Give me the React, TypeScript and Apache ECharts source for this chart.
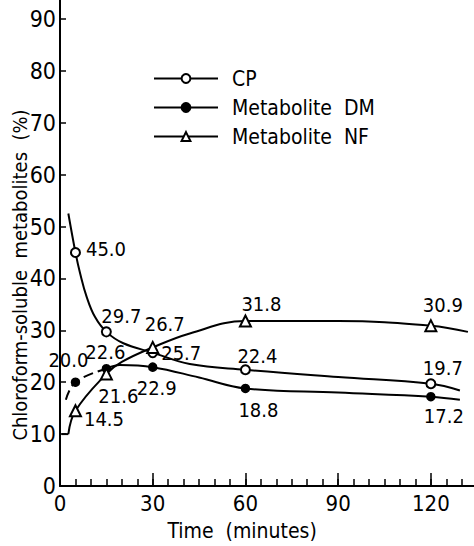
import React, { useEffect, useRef } from "react";
import * as echarts from "echarts";

// Measured points (time in minutes)
const times = [5, 15, 30, 60, 120];
const cpValues = [45.0, 29.7, 25.7, 22.4, 19.7];
const dmValues = [20.0, 22.6, 22.9, 18.8, 17.2];
const nfValues = [14.5, 21.6, 26.7, 31.8, 30.9];

// Hand-drawn fitted curves
const cpCurveT = [2.7, 5, 6.5, 8.6, 11.3, 15, 20.5, 30, 42, 60, 90, 120, 129.4];
const cpCurveV = [52.5, 45.0, 41.0, 36.5, 32.6, 29.7, 27.5, 25.7, 23.5, 22.4, 21.0, 19.7, 18.4];
const dmDashT = [1.9, 5, 15];
const dmDashV = [16.6, 20.0, 22.6];
const dmCurveT = [15, 19.4, 30, 45, 60, 90, 120, 129.4];
const dmCurveV = [22.6, 23.3, 22.9, 20.9, 18.8, 18.0, 17.2, 16.6];
const nfFlatT = [0.5, 2.7];
const nfFlatV = [10.0, 10.0];
const nfCurveT = [2.7, 5, 15, 20, 30, 42, 60, 90, 120, 132];
const nfCurveV = [10.0, 14.5, 21.6, 23.9, 26.7, 29.4, 31.8, 31.8, 30.9, 29.7];

// Axis tick settings
const xMajorStep = 30;
const xMinorStep = 5;
const yStep = 10;
const yLabelMax = 90;

const seriesNames = ["CP", "Metabolite  DM", "Metabolite  NF"];

// Label placement styles per point
const cpLabelPos: [string, number[]][] = [
  ["right", [0, -3]],
  ["top", [15, 5]],
  ["right", [-2, 0]],
  ["top", [12, 7]],
  ["top", [12, 5]],
];
const dmLabelPos: [string, number[]][] = [
  ["top", [-7, -2]],
  ["top", [-1, 3]],
  ["bottom", [4, 1]],
  ["bottom", [13, 2]],
  ["bottom", [13, 0]],
];
const nfLabelPos: [string, number[]][] = [
  ["right", [-3, 8]],
  ["bottom", [12, 1]],
  ["top", [12, -2]],
  ["top", [16, 5]],
  ["top", [12, 1]],
];

const FONT = '"DejaVu Sans Condensed", "Liberation Sans Narrow", "DejaVu Sans", sans-serif';

function pts(t: number[], v: number[]) {
  return t.map((x, i) => [x, v[i]]);
}

function labeled(values: number[], pos: [string, number[]][]) {
  return times.map((t, i) => ({
    value: [t, values[i]],
    label: { position: pos[i][0], offset: pos[i][1] },
  }));
}

export default function App() {
  const ref = useRef<HTMLDivElement>(null);
  useEffect(() => {
    if (!ref.current) return;
    const chart = echarts.init(ref.current, null, { renderer: "svg" });
    const curve = (name: string, data: number[][], dashed = false) => ({
      name,
      type: "line",
      data,
      smooth: 0.4,
      showSymbol: false,
      symbol: "none",
      silent: true,
      z: 2,
      lineStyle: { color: "#000", width: 2, type: dashed ? [10, 5] : "solid" },
    });
    const pointsSeries = (name: string, data: any[], symbol: string, size: number) => ({
      name,
      type: "line",
      data,
      symbol,
      symbolSize: size,
      showSymbol: true,
      z: 5,
      lineStyle: { width: 0, opacity: 0, color: "#000" },
      itemStyle: { color: "#000", borderColor: "#000", borderWidth: 1.5 },
      label: {
        show: true,
        distance: 5,
        color: "#000",
        fontSize: 20,
        fontFamily: FONT,
        formatter: (p: any) => Number(p.value[1]).toFixed(1),
      },
    });
    chart.setOption({
      animation: false,
      backgroundColor: "#fff",
      grid: { left: 60, right: -3.2, top: -33, bottom: 60, containLabel: false, outerBoundsMode: "none" },
      legend: {
        orient: "vertical",
        left: 148,
        top: 63,
        padding: 5,
        itemWidth: 64,
        itemHeight: 11,
        itemGap: 8,
        textStyle: { color: "#000", fontSize: 21, fontFamily: FONT, padding: [0, 0, 0, 9] },
        data: seriesNames.map((n) => ({
          name: n,
          lineStyle: { color: "#000", width: 2, opacity: 1, type: "solid" },
        })),
      },
      xAxis: [
        {
          type: "value",
          min: 0,
          max: 135,
          interval: xMajorStep,
          position: "bottom",
          splitLine: { show: false },
          axisLine: { lineStyle: { color: "#000", width: 2 } },
          axisTick: { inside: true, length: 13, lineStyle: { color: "#000", width: 1.5 } },
          axisLabel: {
            color: "#000",
            fontSize: 22,
            fontFamily: FONT,
            margin: 6,
            formatter: (v: number) => (v % xMajorStep === 0 && v <= 120 ? String(v) : ""),
          },
          name: "Time  (minutes)",
          nameLocation: "middle",
          nameGap: 34,
          nameMoveOverlap: false,
          nameTextStyle: { color: "#000", fontSize: 21, fontFamily: FONT, padding: [0, 53, 0, 0] },
        },
        {
          type: "value",
          min: 0,
          max: 135,
          interval: xMinorStep,
          position: "bottom",
          splitLine: { show: false },
          axisLine: { show: false },
          axisTick: { inside: true, length: 7, lineStyle: { color: "#000", width: 1.5 } },
          axisLabel: { show: false },
        },
      ],
      yAxis: {
        type: "value",
        min: 0,
        max: 100,
        interval: yStep,
        splitLine: { show: false },
        axisLine: { lineStyle: { color: "#000", width: 2 } },
        axisTick: { inside: true, length: 6, lineStyle: { color: "#000", width: 1.5 } },
        axisLabel: {
          color: "#000",
          fontSize: 23,
          fontFamily: FONT,
          margin: 4,
          formatter: (v: number) => (v <= yLabelMax ? String(v) : ""),
        },
        name: "Chloroform-soluble  metabolites  (%)",
        nameLocation: "middle",
        nameRotate: 90,
        nameGap: 30,
        nameMoveOverlap: false,
        nameTextStyle: { color: "#000", fontSize: 20, fontFamily: FONT, padding: [0, 97, 0, 0] },
      },
      series: [
        curve("CP fit", pts(cpCurveT, cpCurveV)),
        curve("DM fit a", pts(dmDashT, dmDashV), true),
        curve("DM fit b", pts(dmCurveT, dmCurveV)),
        curve("NF fit a", pts(nfFlatT, nfFlatV)),
        curve("NF fit b", pts(nfCurveT, nfCurveV)),
        pointsSeries(seriesNames[0], labeled(cpValues, cpLabelPos), "emptyCircle", 9),
        pointsSeries(seriesNames[1], labeled(dmValues, dmLabelPos), "circle", 8),
        pointsSeries(seriesNames[2], labeled(nfValues, nfLabelPos), "emptyTriangle", 11),
      ],
    });
    return () => chart.dispose();
  }, []);
  return (
    <div
      ref={ref}
      style={{ position: "absolute", left: 0, top: 0, width: 474, height: 546 }}
    />
  );
}
